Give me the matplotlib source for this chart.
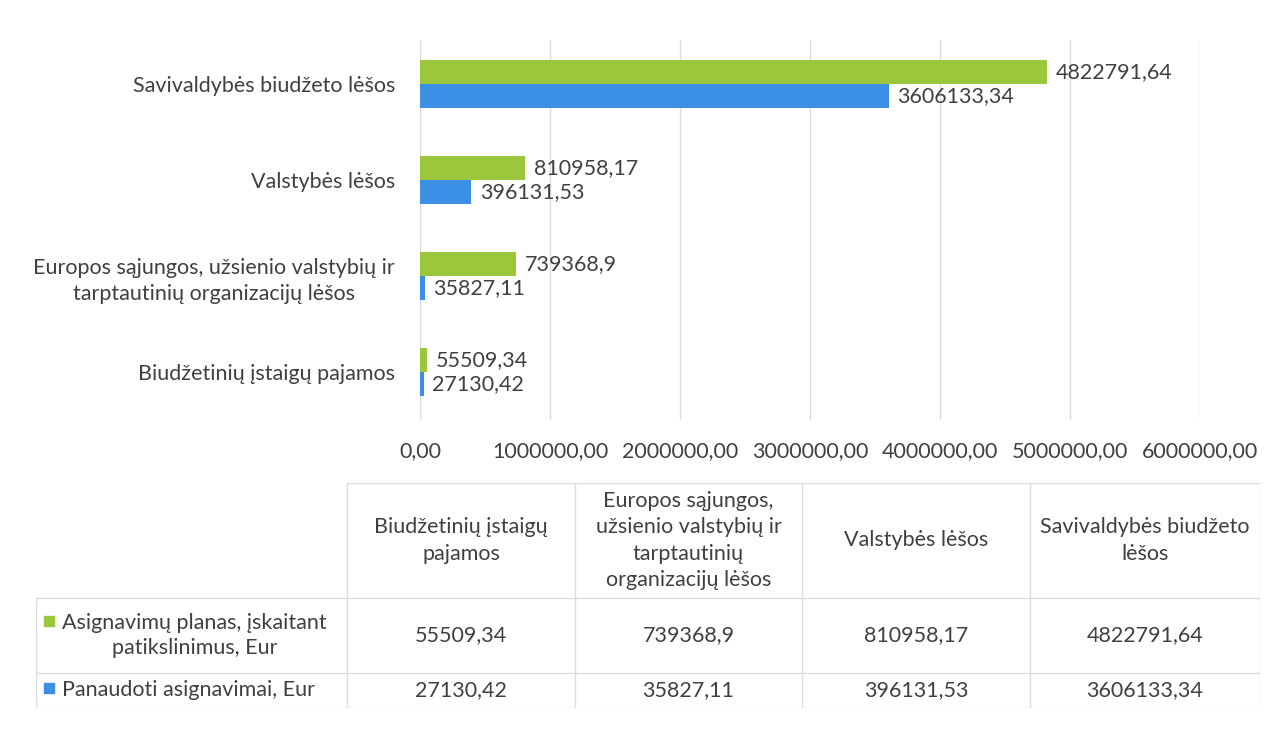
import numpy as np
import matplotlib.pyplot as plt

plt.rcParams['font.family'] = ['Lato', 'DejaVu Sans']

categories = ['Biudžetinių įstaigų pajamos',
              'Europos sąjungos, užsienio valstybių ir\ntarptautinių organizacijų lėšos',
              'Valstybės lėšos',
              'Savivaldybės biudžeto lėšos']
table_headers = ['Biudžetinių įstaigų\npajamos',
                 'Europos sąjungos,\nužsienio valstybių ir\ntarptautinių\norganizacijų lėšos',
                 'Valstybės lėšos',
                 'Savivaldybės biudžeto\nlėšos']
planned = [55509.34, 739368.9, 810958.17, 4822791.64]
used = [27130.42, 35827.11, 396131.53, 3606133.34]
planned_txt = ['55509,34', '739368,9', '810958,17', '4822791,64']
used_txt = ['27130,42', '35827,11', '396131,53', '3606133,34']
series_names = ['Asignavimų planas, įskaitant\npatikslinimus, Eur', 'Panaudoti asignavimai, Eur']
xticks = [0, 1000000, 2000000, 3000000, 4000000, 5000000, 6000000]
xticklabels = ['0,00', '1000000,00', '2000000,00', '3000000,00', '4000000,00', '5000000,00', '6000000,00']

green = '#9cc63c'
blue = '#3b8fe4'
txt = '#404040'
fs = 15.5

W, H = 1288, 729
fig = plt.figure(figsize=(W / 100, H / 100), dpi=100)

def px_axes(x0, y0, x1, y1):
    return fig.add_axes([x0 / W, 1 - y1 / H, (x1 - x0) / W, (y1 - y0) / H])

ax = px_axes(420, 40, 1200, 420)
y = np.arange(len(categories))
h = 0.25
ax.barh(y + h / 2, planned, height=h, color=green)
ax.barh(y - h / 2, used, height=h, color=blue)
for i in range(len(categories)):
    ax.annotate(planned_txt[i], (planned[i], y[i] + h / 2), xytext=(6, 0), textcoords='offset points',
                va='center', ha='left', fontsize=fs, color=txt)
    ax.annotate(used_txt[i], (used[i], y[i] - h / 2), xytext=(6, 0), textcoords='offset points',
                va='center', ha='left', fontsize=fs, color=txt)

ax.set_xlim(0, 6000000)
ax.set_ylim(-0.5, 3.46)
ax.set_xticks(xticks)
ax.set_xticklabels(xticklabels, fontsize=fs, color=txt)
ax.set_yticks(y)
ax.set_yticklabels(categories, fontsize=fs, color=txt, ha='right', linespacing=1.35)
for lab in ax.get_yticklabels():
    lab.set_multialignment('center')
ax.tick_params(axis='both', length=0)
ax.tick_params(axis='x', pad=15)
ax.tick_params(axis='y', pad=18)
ax.grid(True, axis='x', color='#dcdcdc', lw=1)
ax.set_axisbelow(True)
for s in ax.spines.values():
    s.set_visible(False)

# data table below the chart
tab = px_axes(36, 483, 1260, 708)
tab.set_xlim(36, 1260)
tab.set_ylim(708, 483)
tab.axis('off')
col_edges = [36, 347, 575, 802, 1030, 1260]
row_edges = [483, 598, 673, 708]
lc = '#dcdcdc'
for xe in col_edges[1:]:
    tab.plot([xe, xe], [row_edges[0], row_edges[-1]], color=lc, lw=1)
tab.plot([col_edges[0], col_edges[0]], [row_edges[1], row_edges[-1]], color=lc, lw=1)
tab.plot([col_edges[1], col_edges[-1]], [row_edges[0], row_edges[0]], color=lc, lw=1)
for ye in row_edges[1:]:
    tab.plot([col_edges[0], col_edges[-1]], [ye, ye], color=lc, lw=1)

for j, hd in enumerate(table_headers):
    cx = (col_edges[j + 1] + col_edges[j + 2]) / 2
    tab.text(cx, (row_edges[0] + row_edges[1]) / 2, hd, ha='center', va='center',
             fontsize=fs, color=txt, linespacing=1.38)
    tab.text(cx, (row_edges[1] + row_edges[2]) / 2, planned_txt[j], ha='center', va='center',
             fontsize=fs, color=txt)
    tab.text(cx, (row_edges[2] + row_edges[3]) / 2, used_txt[j], ha='center', va='center',
             fontsize=fs, color=txt)

for k, name in enumerate(series_names):
    cy = (row_edges[k + 1] + row_edges[k + 2]) / 2
    tab.text(62, cy, name, ha='left', va='center', fontsize=fs, color=txt,
             multialignment='center', linespacing=1.35)
tab.scatter([49, 49], [621, 688], marker='s', s=45, c=[green, blue])

fig.savefig('out.png', dpi=100)
